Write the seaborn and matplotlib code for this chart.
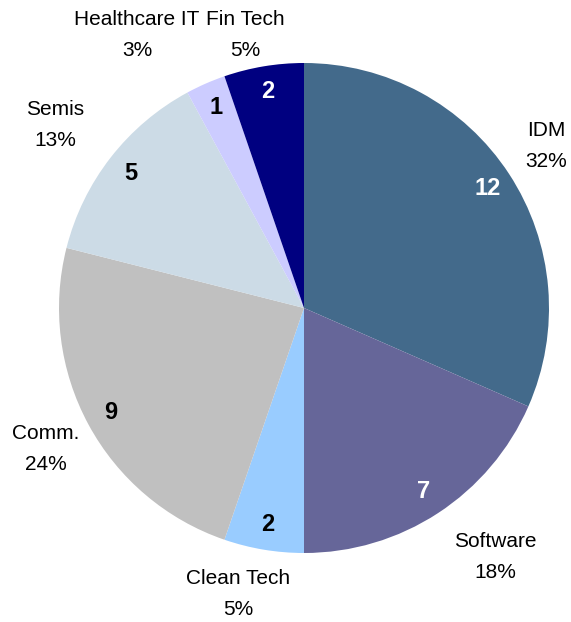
import matplotlib
matplotlib.use("Agg")
import matplotlib.pyplot as plt
import seaborn as sns

# chart data
sectors = ["IDM", "Software", "Clean Tech", "Comm.", "Semis", "Healthcare IT", "Fin Tech"]
counts = [12, 7, 2, 9, 5, 1, 2]
colors = ["#436a8b", "#666699", "#99ccff", "#c0c0c0", "#ccdbe6", "#ccccff", "#000080"]
count_colors = ["white", "white", "black", "black", "black", "black", "white"]

# label placement (data units, pie radius = 1)
label_pos = [(0.988, 0.661), (0.78, -1.016), (-0.269, -1.167), (-1.053, -0.576),
             (-1.016, 0.747), (-0.682, 1.114), (-0.241, 1.114)]

sns.set_theme(style="white")
plt.rcParams["font.family"] = ["Liberation Sans", "DejaVu Sans"]

fig = plt.figure(figsize=(5.71, 6.22), dpi=100)
ax = fig.add_axes([(304 - 245) / 571, 1 - (308 + 245) / 622, 490 / 571, 490 / 622])

total = sum(counts)
wedges, texts, autotexts = ax.pie(
    counts, colors=colors, startangle=90, counterclock=False,
    labels=["%s\n%d%%" % (s, round(c * 100 / total)) for s, c in zip(sectors, counts)],
    autopct=lambda p: "%d" % round(p * total / 100), pctdistance=0.895,
    wedgeprops=dict(linewidth=0), radius=1,
)

for t, pos in zip(texts, label_pos):
    t.set_position(pos)
    t.set_ha("center")
    t.set_va("center")
    t.set_fontsize(15)
    t.set_linespacing(1.85)
    t.set_color("black")

for t, c in zip(autotexts, count_colors):
    t.set_color(c)
    t.set_fontsize(17)
    t.set_fontweight("bold")

ax.set_xlim(-1, 1)
ax.set_ylim(-1, 1)
ax.set_aspect("equal")
ax.axis("off")

fig.savefig("out.png", dpi=100, facecolor="white")
